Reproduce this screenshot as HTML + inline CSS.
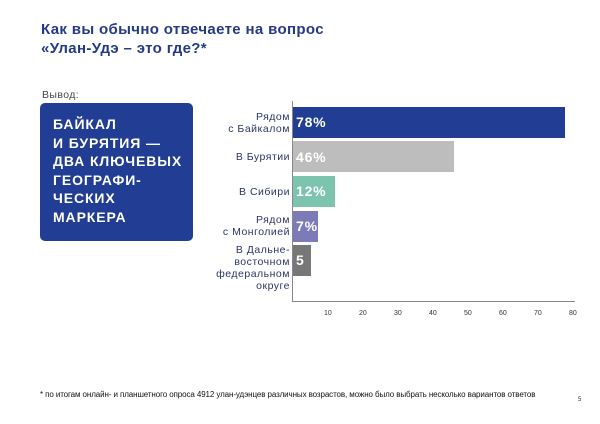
<!DOCTYPE html>
<html><head><meta charset="utf-8"><style>
body{margin:0;width:600px;height:424px;background:#fff;font-family:"Liberation Sans","DejaVu Sans",sans-serif;position:relative;overflow:hidden}
.a{position:absolute}
.t{left:41px;top:20px;font-size:15px;font-weight:bold;color:#233a84;line-height:19px;letter-spacing:0.35px}
.box{left:40px;top:103px;width:153px;height:138px;background:#213d94;border-radius:5px}
.box div{position:absolute;left:13px;top:12px;color:#fff;font-weight:bold;font-size:14px;line-height:18.5px;letter-spacing:0.9px}
.lab{font-size:10.5px;color:#2b3566;text-align:right;right:310px;line-height:12px;letter-spacing:0.5px}
.bar{left:293px;height:31px}
.v{color:#fff;font-weight:bold;font-size:14px;left:296px;letter-spacing:0.8px}
.tk{font-size:7px;color:#333;top:310px}
</style></head><body>
<div class="a t">Как вы обычно отвечаете на вопрос<br>«Улан-Удэ – это где?*</div>
<div class="a" style="left:42px;top:89px;font-size:10.5px;color:#444;letter-spacing:0.4px">Вывод:</div>
<div class="a box"><div>БАЙКАЛ<br>И БУРЯТИЯ —<br>ДВА КЛЮЧЕВЫХ<br>ГЕОГРАФИ-<br>ЧЕСКИХ<br>МАРКЕРА</div></div>
<div class="a" style="left:292px;top:101px;width:1px;height:201px;background:#888"></div>
<div class="a" style="left:292px;top:301px;width:283px;height:1px;background:#888"></div>
<div class="a bar" style="top:107px;width:272px;background:#213d94"></div>
<div class="a bar" style="top:141px;width:161px;background:#bdbdbd"></div>
<div class="a bar" style="top:176px;width:42px;background:#7cc4ad"></div>
<div class="a bar" style="top:211px;width:25px;background:#7d7ab8"></div>
<div class="a bar" style="top:245px;width:18px;background:#777"></div>
<div class="a v" style="top:114px">78%</div>
<div class="a v" style="top:149px">46%</div>
<div class="a v" style="top:183px">12%</div>
<div class="a v" style="top:218px">7%</div>
<div class="a v" style="top:252px">5</div>
<div class="a lab" style="top:111px">Рядом<br>с Байкалом</div>
<div class="a lab" style="top:151px">В Бурятии</div>
<div class="a lab" style="top:186px">В Сибири</div>
<div class="a lab" style="top:214px">Рядом<br>с Монголией</div>
<div class="a lab" style="top:244px">В Дальне-<br>восточном<br>федеральном<br>округе</div>
<div class="a tk" style="left:324px">10</div>
<div class="a tk" style="left:359px">20</div>
<div class="a tk" style="left:394px">30</div>
<div class="a tk" style="left:429px">40</div>
<div class="a tk" style="left:464px">50</div>
<div class="a tk" style="left:499px">60</div>
<div class="a tk" style="left:534px">70</div>
<div class="a tk" style="left:569px">80</div>
<div class="a" style="left:40px;top:390px;font-size:8px;color:#111;letter-spacing:-0.1px">* по итогам онлайн- и планшетного опроса 4912 улан-удэнцев различных возрастов, можно было выбрать несколько вариантов ответов</div>
<div class="a" style="left:578px;top:397px;font-size:6px;color:#333">5</div>
</body></html>
